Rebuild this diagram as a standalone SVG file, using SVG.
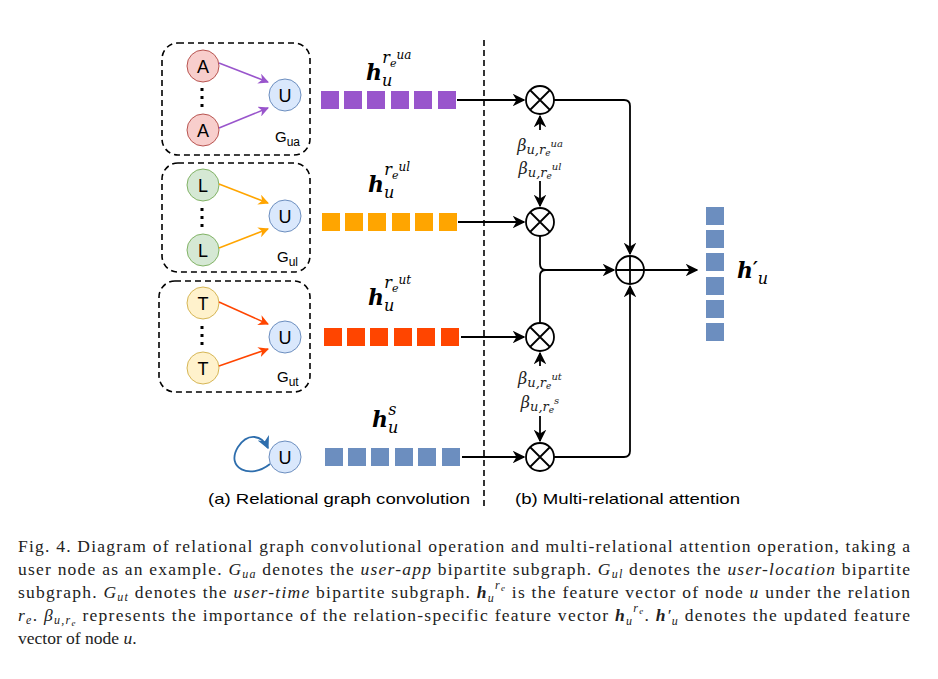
<svg xmlns="http://www.w3.org/2000/svg" width="938" height="679" viewBox="0 0 938 679">
<style>
.box{fill:none;stroke:#000;stroke-width:1.6;stroke-dasharray:6 4}
.nd{stroke-width:1}
.lt{font-family:"Liberation Sans",Arial,sans-serif;font-size:18px;text-anchor:middle;dominant-baseline:central}
.g{font-family:"Liberation Sans",Arial,sans-serif;font-size:15px}
.m{font-family:"DejaVu Serif","Liberation Serif",serif;font-style:italic}
.ln{fill:none;stroke:#000;stroke-width:1.8}
.op{fill:#fff;stroke:#000;stroke-width:1.8}
.cap{font-family:"Liberation Serif","Noto Serif",serif;font-size:17.5px;fill:#222}
</style>
<defs>
<marker id="ak" viewBox="0 0 10 10" refX="9" refY="5" markerWidth="7" markerHeight="7" orient="auto"><path d="M0,0L10,5L0,10L3,5z" fill="#000"/></marker>
<marker id="ap" viewBox="0 0 10 10" refX="9" refY="5" markerWidth="7" markerHeight="7" orient="auto"><path d="M0,0L10,5L0,10L3,5z" fill="#9955cc"/></marker>
<marker id="ao" viewBox="0 0 10 10" refX="9" refY="5" markerWidth="7" markerHeight="7" orient="auto"><path d="M0,0L10,5L0,10L3,5z" fill="#ffa500"/></marker>
<marker id="ar" viewBox="0 0 10 10" refX="9" refY="5" markerWidth="7" markerHeight="7" orient="auto"><path d="M0,0L10,5L0,10L3,5z" fill="#ff4500"/></marker>
<marker id="ab" viewBox="0 0 10 10" refX="9" refY="5" markerWidth="7" markerHeight="7" orient="auto"><path d="M0,0L10,5L0,10L3,5z" fill="#2e6ead"/></marker>
</defs>
<rect width="938" height="679" fill="#fff"/>
<line x1="484" y1="40" x2="484" y2="506" stroke="#000" stroke-width="1.6" stroke-dasharray="6 4"/>

<g id="gua">
<rect class="box" x="162" y="43" width="148" height="112" rx="16"/>
<circle class="nd" cx="203" cy="66" r="16" fill="#f8cecc" stroke="#b85450"/><text class="lt" x="203" y="67">A</text>
<circle class="nd" cx="203" cy="130" r="16" fill="#f8cecc" stroke="#b85450"/><text class="lt" x="203" y="131">A</text>
<circle class="nd" cx="285" cy="95" r="16" fill="#dae8fc" stroke="#6c8ebf"/><text class="lt" x="285" y="96">U</text>
<line x1="202" y1="88" x2="202" y2="108" stroke="#000" stroke-width="3" stroke-dasharray="3 5"/>
<line x1="219" y1="63" x2="268" y2="82" stroke="#9955cc" stroke-width="1.5" marker-end="url(#ap)"/>
<line x1="219" y1="128" x2="268" y2="108" stroke="#9955cc" stroke-width="1.5" marker-end="url(#ap)"/>
<text class="g" x="275" y="142">G<tspan font-size="12" dy="4">ua</tspan></text>
</g>
<g id="gul">
<rect class="box" x="162" y="163" width="148" height="109" rx="16"/>
<circle class="nd" cx="203" cy="185" r="16" fill="#d5e8d4" stroke="#82b366"/><text class="lt" x="203" y="186">L</text>
<circle class="nd" cx="203" cy="250" r="16" fill="#d5e8d4" stroke="#82b366"/><text class="lt" x="203" y="251">L</text>
<circle class="nd" cx="285" cy="216" r="16" fill="#dae8fc" stroke="#6c8ebf"/><text class="lt" x="285" y="217">U</text>
<line x1="202" y1="208" x2="202" y2="228" stroke="#000" stroke-width="3" stroke-dasharray="3 5"/>
<line x1="219" y1="184" x2="268" y2="203" stroke="#ffa500" stroke-width="1.5" marker-end="url(#ao)"/>
<line x1="219" y1="248" x2="268" y2="229" stroke="#ffa500" stroke-width="1.5" marker-end="url(#ao)"/>
<text class="g" x="277" y="262">G<tspan font-size="12" dy="4">ul</tspan></text>
</g>
<g id="gut">
<rect class="box" x="159" y="281" width="151" height="111" rx="16"/>
<circle class="nd" cx="203" cy="303" r="16" fill="#fff2cc" stroke="#d6b656"/><text class="lt" x="203" y="304">T</text>
<circle class="nd" cx="203" cy="368" r="16" fill="#fff2cc" stroke="#d6b656"/><text class="lt" x="203" y="369">T</text>
<circle class="nd" cx="285" cy="337" r="16" fill="#dae8fc" stroke="#6c8ebf"/><text class="lt" x="285" y="338">U</text>
<line x1="202" y1="326" x2="202" y2="346" stroke="#000" stroke-width="3" stroke-dasharray="3 5"/>
<line x1="219" y1="302" x2="268" y2="324" stroke="#ff4500" stroke-width="1.5" marker-end="url(#ar)"/>
<line x1="219" y1="366" x2="268" y2="349" stroke="#ff4500" stroke-width="1.5" marker-end="url(#ar)"/>
<text class="g" x="277" y="382">G<tspan font-size="12" dy="4">ut</tspan></text>
</g>
<g id="uself">
<circle class="nd" cx="285" cy="457" r="16" fill="#dae8fc" stroke="#6c8ebf"/><text class="lt" x="285" y="458">U</text>
<path d="M270,464 C250,480 225,468 238,447 C248,432 262,435 268,448" fill="none" stroke="#2e6ead" stroke-width="1.8" marker-end="url(#ab)"/>
</g>

<g id="bars">
<g fill="#9955cc"><rect x="321" y="91" width="18" height="18"/><rect x="344" y="91" width="18" height="18"/><rect x="367" y="91" width="18" height="18"/><rect x="391" y="91" width="18" height="18"/><rect x="414" y="91" width="18" height="18"/><rect x="438" y="91" width="18" height="18"/></g>
<g fill="#ffa500"><rect x="322" y="213" width="18" height="18"/><rect x="345" y="213" width="18" height="18"/><rect x="368" y="213" width="18" height="18"/><rect x="392" y="213" width="18" height="18"/><rect x="415" y="213" width="18" height="18"/><rect x="439" y="213" width="18" height="18"/></g>
<g fill="#ff4500"><rect x="324" y="328" width="18" height="18"/><rect x="347" y="328" width="18" height="18"/><rect x="370" y="328" width="18" height="18"/><rect x="394" y="328" width="18" height="18"/><rect x="417" y="328" width="18" height="18"/><rect x="441" y="328" width="18" height="18"/></g>
<g fill="#6c8ebf"><rect x="325" y="448" width="18" height="18"/><rect x="348" y="448" width="18" height="18"/><rect x="371" y="448" width="18" height="18"/><rect x="395" y="448" width="18" height="18"/><rect x="418" y="448" width="18" height="18"/><rect x="442" y="448" width="18" height="18"/></g>
<g fill="#6c8ebf"><rect x="706" y="207" width="18" height="18"/><rect x="706" y="230" width="18" height="18"/><rect x="706" y="253" width="18" height="18"/><rect x="706" y="277" width="18" height="18"/><rect x="706" y="300" width="18" height="18"/><rect x="706" y="323" width="18" height="18"/></g>
</g>

<g id="hlabels" class="m" font-size="22">
<text x="366" y="80" font-weight="bold">h<tspan font-size="16" font-weight="normal" dy="6">u</tspan><tspan font-size="16" font-weight="normal" dx="-10" dy="-23">r</tspan><tspan font-size="11" font-weight="normal" dy="4">e</tspan><tspan font-size="12" font-weight="normal" dy="-8">ua</tspan></text>
<text x="368" y="192" font-weight="bold">h<tspan font-size="16" font-weight="normal" dy="6">u</tspan><tspan font-size="16" font-weight="normal" dx="-10" dy="-23">r</tspan><tspan font-size="11" font-weight="normal" dy="4">e</tspan><tspan font-size="12" font-weight="normal" dy="-8">ul</tspan></text>
<text x="368" y="305" font-weight="bold">h<tspan font-size="16" font-weight="normal" dy="6">u</tspan><tspan font-size="16" font-weight="normal" dx="-10" dy="-23">r</tspan><tspan font-size="11" font-weight="normal" dy="4">e</tspan><tspan font-size="12" font-weight="normal" dy="-8">ut</tspan></text>
<text x="372" y="427" font-weight="bold">h<tspan font-size="16" font-weight="normal" dy="6">u</tspan><tspan font-size="16" font-weight="normal" dx="-10" dy="-18">s</tspan></text>
<text x="737" y="278" font-weight="bold">h<tspan font-size="18" dy="-3">′</tspan><tspan font-size="16" font-weight="normal" dy="9">u</tspan></text>
</g>
<g id="betas" class="m" font-size="16" fill="#222" text-anchor="middle">
<text x="540" y="151">β<tspan font-size="13" dy="3">u,r</tspan><tspan font-size="9" dy="2">e</tspan><tspan font-size="10" dy="-9">ua</tspan></text>
<text x="540" y="174">β<tspan font-size="13" dy="3">u,r</tspan><tspan font-size="9" dy="2">e</tspan><tspan font-size="10" dy="-9">ul</tspan></text>
<text x="540" y="384">β<tspan font-size="13" dy="3">u,r</tspan><tspan font-size="9" dy="2">e</tspan><tspan font-size="10" dy="-9">ut</tspan></text>
<text x="540" y="408">β<tspan font-size="13" dy="3">u,r</tspan><tspan font-size="9" dy="2">e</tspan><tspan font-size="10" dy="-9">s</tspan></text>
</g>

<g id="connectors">
<line class="ln" x1="457" y1="100" x2="524" y2="100" marker-end="url(#ak)"/>
<line class="ln" x1="458" y1="222" x2="524" y2="222" marker-end="url(#ak)"/>
<line class="ln" x1="461" y1="337" x2="524" y2="337" marker-end="url(#ak)"/>
<line class="ln" x1="462" y1="457" x2="524" y2="457" marker-end="url(#ak)"/>
<line class="ln" x1="540" y1="130" x2="540" y2="116" marker-end="url(#ak)"/>
<line class="ln" x1="540" y1="181" x2="540" y2="206" marker-end="url(#ak)"/>
<line class="ln" x1="540" y1="366" x2="540" y2="353" marker-end="url(#ak)"/>
<line class="ln" x1="540" y1="416" x2="540" y2="441" marker-end="url(#ak)"/>
<path class="ln" d="M554,100 H624 Q630,100 630,106 V254" marker-end="url(#ak)"/>
<path class="ln" d="M554,457 H624 Q630,457 630,451 V286" marker-end="url(#ak)"/>
<path class="ln" d="M540,236 V264 Q540,270 546,270 H614" marker-end="url(#ak)"/>
<path class="ln" d="M540,323 V276 Q540,270 546,270"/>
<line class="ln" x1="644" y1="270" x2="697" y2="270" marker-end="url(#ak)"/>
</g>
<g id="ops">
<g><circle class="op" cx="540" cy="100" r="14"/><path class="ln" d="M530,90L550,110M550,90L530,110"/></g>
<g><circle class="op" cx="540" cy="222" r="14"/><path class="ln" d="M530,212L550,232M550,212L530,232"/></g>
<g><circle class="op" cx="540" cy="337" r="14"/><path class="ln" d="M530,327L550,347M550,327L530,347"/></g>
<g><circle class="op" cx="540" cy="457" r="14"/><path class="ln" d="M530,447L550,467M550,447L530,467"/></g>
<g><circle class="op" cx="630" cy="270" r="14"/><path class="ln" d="M616,270H644M630,256V284"/></g>
</g>

<text class="g" font-size="19" x="208" y="504" textLength="262" lengthAdjust="spacingAndGlyphs">(a) Relational graph convolution</text>
<text class="g" font-size="19" x="515" y="504" textLength="225" lengthAdjust="spacingAndGlyphs">(b) Multi-relational attention</text>

<g id="caption" class="cap">
<text x="18" y="552" textLength="892" lengthAdjust="spacing">Fig. 4.  Diagram of relational graph convolutional operation and multi-relational attention operation, taking a</text>
<text x="18" y="575" textLength="892" lengthAdjust="spacing">user node as an example. <tspan font-style="italic">G<tspan font-size="12" dy="3">ua</tspan></tspan><tspan dy="-3"> denotes the </tspan><tspan font-style="italic">user-app</tspan> bipartite subgraph. <tspan font-style="italic">G<tspan font-size="12" dy="3">ul</tspan></tspan><tspan dy="-3"> denotes the </tspan><tspan font-style="italic">user-location</tspan> bipartite</text>
<text x="18" y="598" textLength="892" lengthAdjust="spacing">subgraph. <tspan font-style="italic">G<tspan font-size="12" dy="3">ut</tspan></tspan><tspan dy="-3"> denotes the </tspan><tspan font-style="italic">user-time</tspan> bipartite subgraph. <tspan font-style="italic" font-weight="bold">h<tspan font-size="12" font-weight="normal" dy="4">u</tspan><tspan font-size="12" font-weight="normal" dy="-13">r</tspan><tspan font-size="9" font-weight="normal" dy="2">e</tspan></tspan><tspan dy="7"> is the feature vector of node </tspan><tspan font-style="italic">u</tspan> under the relation</text>
<text x="18" y="621" textLength="892" lengthAdjust="spacing"><tspan font-style="italic">r<tspan font-size="12" dy="3">e</tspan></tspan><tspan dy="-3">. </tspan><tspan font-style="italic">β<tspan font-size="12" dy="3">u,r</tspan><tspan font-size="9" dy="2">e</tspan></tspan><tspan dy="-5"> represents the importance of the relation-specific feature vector </tspan><tspan font-style="italic" font-weight="bold">h<tspan font-size="12" font-weight="normal" dy="4">u</tspan><tspan font-size="12" font-weight="normal" dy="-13">r</tspan><tspan font-size="9" font-weight="normal" dy="2">e</tspan></tspan><tspan dy="7">. </tspan><tspan font-style="italic" font-weight="bold">h<tspan font-weight="normal">′</tspan><tspan font-size="12" font-weight="normal" dy="4">u</tspan></tspan><tspan dy="-4"> denotes the updated feature</tspan></text>
<text x="18" y="644">vector of node <tspan font-style="italic">u</tspan>.</text>
</g>
</svg>
